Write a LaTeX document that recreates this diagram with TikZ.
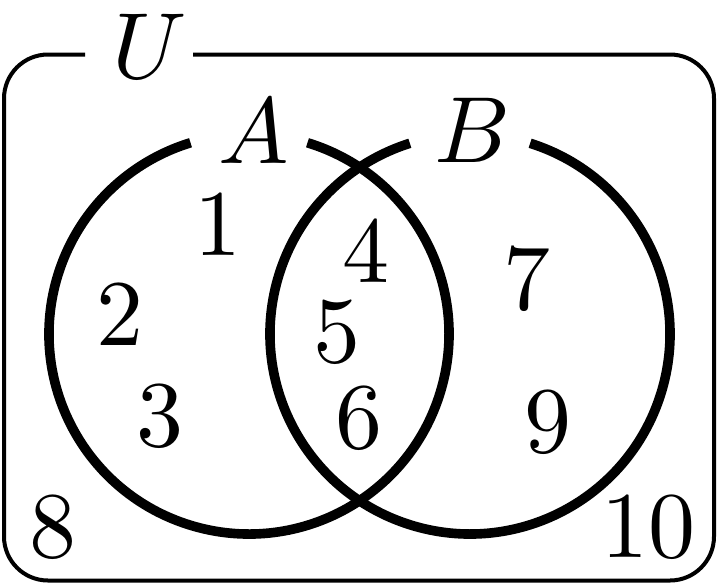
\documentclass[tikz,border=0pt]{standalone}
\font\bigrm=cmr10 at 47pt
\font\bigmi=cmmi10 at 47pt
\begin{document}
\begin{tikzpicture}[x=0.5pt,y=-0.5pt,
  setline/.style={line width=4.8pt},
  frame/.style={line width=2pt, rounded corners=22pt},
  lbl/.style={inner sep=0pt, anchor=base, font=\bigrm},
  setlbl/.style={inner sep=0pt, anchor=base, font=\bigmi}]
\useasboundingbox (0,0) rectangle (718,585);
% universe frame with gap for U
\draw[frame] (85,54.5) -- (4,54.5) -- (4,580.5) -- (714,580.5) -- (714,54.5) -- (193,54.5);
\node[setlbl] (U) at (145,78) {U};
% circles
\coordinate (cA) at (249,334);
\coordinate (cB) at (470,334);
\draw[setline] (cA) ++(-73:200) arc[start angle=-73, end angle=253, radius=200];
\draw[setline] (cB) ++(-72.5:200) arc[start angle=-72.5, end angle=252.5, radius=200];
\node[setlbl] (A) at (254,163) {A};
\node[setlbl] (B) at (470,162) {B};
% elements
\node[lbl] (n1) at (218,255) {1};
\node[lbl] (n2) at (120,345) {2};
\node[lbl] (n3) at (160,446) {3};
\node[lbl] (n4) at (366,282) {4};
\node[lbl] (n5) at (337,362) {5};
\node[lbl] (n6) at (359,448) {6};
\node[lbl] (n7) at (527,309) {7};
\node[lbl] (n9) at (548,452) {9};
\node[lbl] (n8) at (53,557) {8};
\node[lbl] (n10) at (648,557) {10};
\end{tikzpicture}
\end{document}
